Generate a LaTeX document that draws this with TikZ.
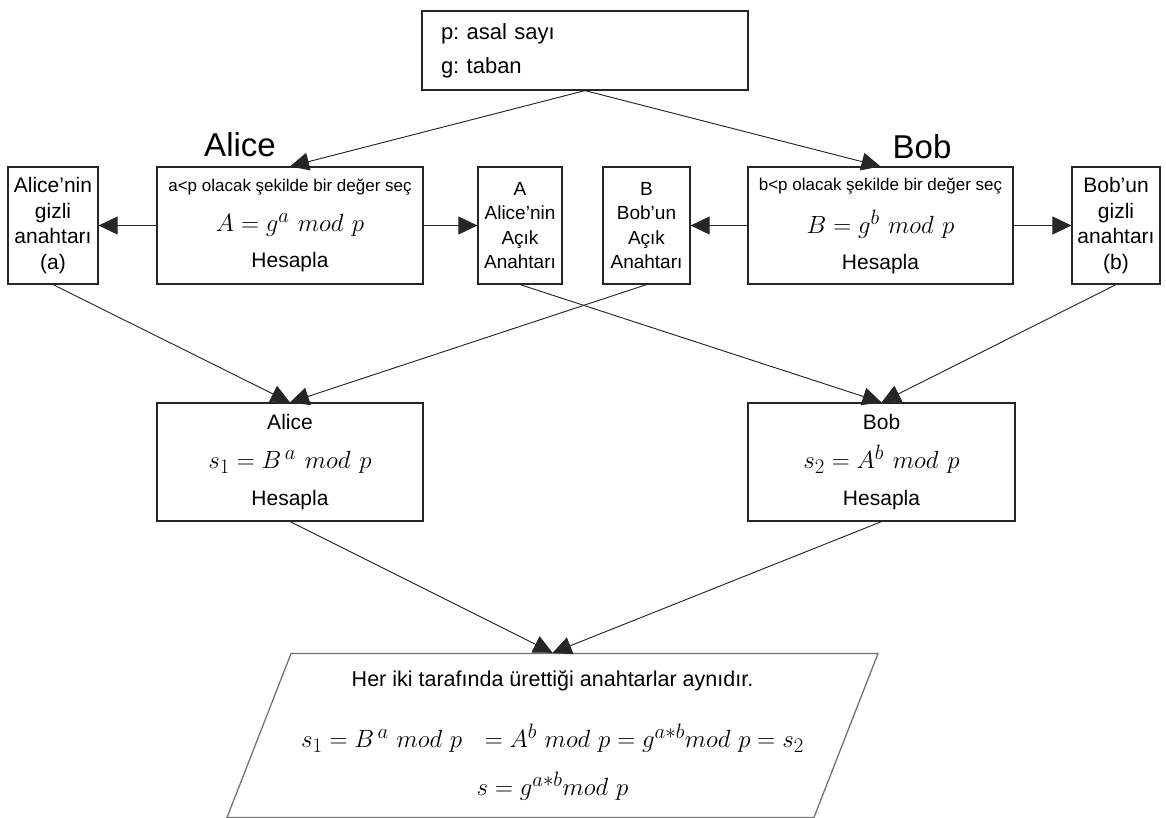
\documentclass[tikz,border=0pt]{standalone}
\usepackage{fontspec}
\setmainfont{Liberation Sans}
\usetikzlibrary{arrows.meta,shapes.geometric}
\newcommand{\dhsmall}{\fontsize{17}{19}\selectfont}
\newcommand{\dhmath}[1]{\fontsize{#1}{#1}\selectfont}
\tikzset{
  dhbox/.style={
    draw=black!85,
    line width=1.2pt,
    align=center,
    inner sep=2pt,
    minimum height=117pt,
    font=\fontsize{21}{25.5}\selectfont
  },
  dhkey/.style={dhbox, font=\fontsize{19}{24.3}\selectfont},
  dhcalc/.style={dhbox, minimum width=266pt, font=\fontsize{21}{25}\selectfont},
  dhname/.style={font=\fontsize{33}{40}\selectfont},
  dhresult/.style={
    trapezium,
    trapezium left angle=64.7,
    trapezium right angle=115.3,
    trapezium stretches body,
    draw=black!55,
    line width=1.3pt,
    align=center,
    inner xsep=2pt,
    minimum width=651pt,
    minimum height=164pt,
    font=\fontsize{21.5}{25}\selectfont
  },
  dharrow/.style={-{Triangle[length=19pt,width=18pt]}, line width=0.9pt, draw=black!85, fill=black}
}

\begin{document}
\frenchspacing
\begin{tikzpicture}[x=1pt, y=-1pt]
\useasboundingbox (0,0) rectangle (1166,818);
\node[dhbox, minimum width=326pt, minimum height=79pt, text width=288pt, align=left,
  font=\fontsize{22}{34}\selectfont] (params) at (585,50.5) {p: asal sayı\\g: taban};
\node[dhname] (alicename) at (240,145) {Alice};
\node[dhname] (bobname) at (922,147) {Bob};
\node[dhbox, minimum width=90pt] (asecret) at (53,225.5) {Alice’nin\\gizli\\anahtarı\\(a)};
\node[dhcalc] (acalc) at (290,225.5) {{\dhsmall a<p olacak şekilde bir değer seç}\\[15pt]
  {\dhmath{30}$A = g^{a}\ mod\ p$}\\[11pt] Hesapla};
\node[dhkey, minimum width=84pt] (apub) at (520,225.5) {A\\Alice’nin\\Açık\\Anahtarı};
\node[dhkey, minimum width=87pt] (bpub) at (646.5,225.5) {B\\Bob’un\\Açık\\Anahtarı};
\node[dhcalc, minimum width=265pt] (bcalc) at (880.5,225.5) {{\dhsmall b<p olacak şekilde bir değer seç}\\[15pt]
  {\dhmath{30}$B = g^{b}\ mod\ p$}\\[11pt] Hesapla};
\node[dhbox, minimum width=88pt] (bsecret) at (1116,225.5) {Bob’un\\gizli\\anahtarı\\(b)};
\node[dhcalc, minimum height=118pt] (ashared) at (290,462) {Alice\\[14pt]
  {\dhmath{32}$s_1 = B^{\,a}\ mod\ p$}\\[12pt] Hesapla};
\node[dhcalc, minimum width=267pt, minimum height=118pt] (bshared) at (881.5,462) {Bob\\[14pt]
  {\dhmath{32}$s_2 = A^{b}\ mod\ p$}\\[12pt] Hesapla};
\node[dhresult] (result) at (552.5,735.5) {Her iki tarafında ürettiği anahtarlar aynıdır.\\[32pt]
  {\dhmath{28}$s_1 = B^{\,a}\ mod\ p\ \ = A^{b}\ mod\ p = g^{a*b}mod\ p = s_2$}\\[18pt]
  {\dhmath{28}$s = g^{a*b}mod\ p$}};
\draw[dharrow] (params.south) -- (acalc.north);
\draw[dharrow] (params.south) -- (bcalc.north);
\draw[dharrow] (acalc.west) -- (asecret.east);
\draw[dharrow] (acalc.east) -- (apub.west);
\draw[dharrow] (bcalc.west) -- (bpub.east);
\draw[dharrow] (bcalc.east) -- (bsecret.west);
\draw[dharrow] (asecret.south) -- (ashared.north);
\draw[dharrow] (bpub.south) -- (ashared.north);
\draw[dharrow] (apub.south) -- (bshared.north);
\draw[dharrow] (bsecret.south) -- (bshared.north);
\draw[dharrow] (ashared.south) -- (result.north);
\draw[dharrow] (bshared.south) -- (result.north);
\end{tikzpicture}
\end{document}
